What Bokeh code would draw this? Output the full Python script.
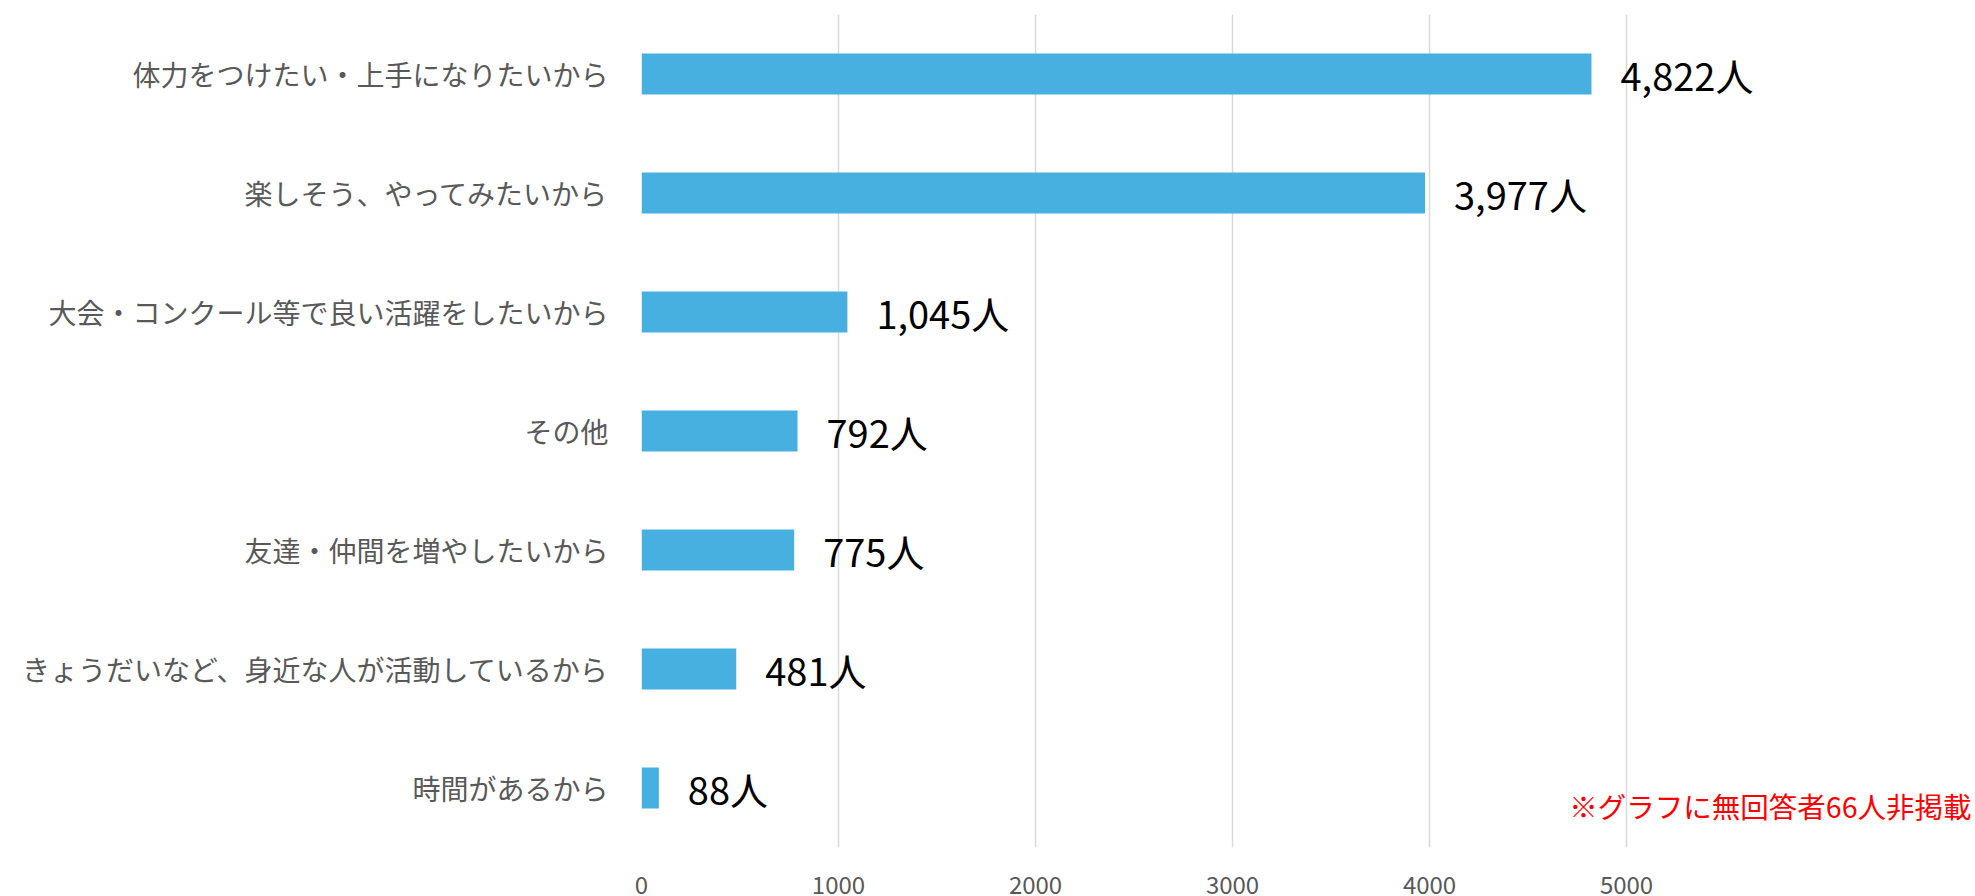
from bokeh.plotting import figure
from bokeh.models import FactorRange, Range1d, FixedTicker, ColumnDataSource
from bokeh.core.properties import value
from bokeh.embed import file_html
from bokeh.resources import INLINE

categories = [
    "体力をつけたい・上手になりたいから",
    "楽しそう、やってみたいから",
    "大会・コンクール等で良い活躍をしたいから",
    "その他",
    "友達・仲間を増やしたいから",
    "きょうだいなど、身近な人が活動しているから",
    "時間があるから",
]
counts = [4822, 3977, 1045, 792, 775, 481, 88]
x_ticks = [0, 1000, 2000, 3000, 4000, 5000]
note = "※グラフに無回答者66人非掲載"

FONT = "Noto Sans CJK JP"
W, H = 1972, 896
X_END = 6756

p = figure(
    width=W, height=H,
    y_range=FactorRange(*reversed(categories)),
    x_range=Range1d(0, X_END),
    output_backend="svg", toolbar_location=None,
    min_border_left=641, min_border_right=0,
    min_border_top=14, min_border_bottom=H - 849,
)
p.outline_line_color = None
p.background_fill_color = "white"
p.border_fill_color = "white"

src = ColumnDataSource(dict(
    cat=categories,
    val=counts,
    lab=[f"{v:,}人" for v in counts],
))

p.hbar(y="cat", right="val", left=0, height=0.345, source=src,
       fill_color="#47B0E0", line_color=None)

p.text(x="val", y="cat", text="lab", source=src, x_offset=29,
       text_baseline="middle", text_align="left",
       text_font=value(FONT), text_font_size="38px", text_color="#000000")

# note (bottom-right)
p.text(x=[X_END], y=[categories[-1]], text=[note], x_offset=-1, y_offset=17,
       text_baseline="middle", text_align="right",
       text_font=value(FONT), text_font_size="28.5px", text_color="#FF0000")

# axes
p.xaxis.ticker = FixedTicker(ticks=x_ticks)
p.xaxis.axis_line_color = None
p.xaxis.major_tick_line_color = None
p.xaxis.minor_tick_line_color = None
p.xaxis.major_label_standoff = 22
p.xaxis.major_label_text_font = FONT
p.xaxis.major_label_text_font_size = "24px"
p.xaxis.major_label_text_color = "#595959"

p.yaxis.axis_line_color = None
p.yaxis.major_tick_line_color = None
p.yaxis.minor_tick_line_color = None
p.yaxis.major_label_standoff = 27
p.yaxis.major_label_text_font = FONT
p.yaxis.major_label_text_font_size = "28px"
p.yaxis.major_label_text_color = "#595959"

p.xgrid.ticker = FixedTicker(ticks=x_ticks)
p.xgrid.grid_line_color = "#D9D9D9"
p.xgrid.grid_line_width = 1.5
p.ygrid.grid_line_color = None

open("out.html", "w").write(file_html(p, INLINE))
